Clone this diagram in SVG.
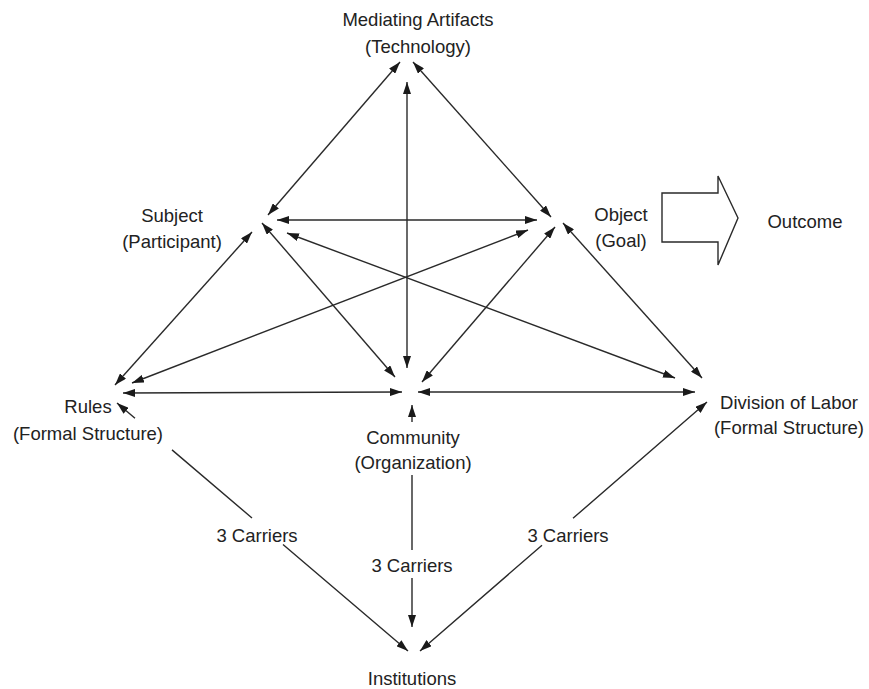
<svg xmlns="http://www.w3.org/2000/svg" width="869" height="689" viewBox="0 0 869 689">
<style>
.lbl{font-family:"Liberation Sans",Arial,sans-serif;font-size:18.5px;fill:#222;text-anchor:middle}
.c{fill:none;stroke:#2a2a2a;stroke-width:1.4;marker-start:url(#ah);marker-end:url(#ah)}
.big{fill:#fff;stroke:#2a2a2a;stroke-width:1.4}
</style>
<defs>
<marker id="ah" markerUnits="userSpaceOnUse" markerWidth="12" markerHeight="8" refX="12" refY="4" orient="auto-start-reverse">
<path d="M0,0 L12,4 L0,8 z" fill="#1a1a1a"/>
</marker>
</defs>
<rect width="869" height="689" fill="#fff"/>
<g id="connectors">
<path class="c" d="M268,215 L400,62"/>
<path class="c" d="M551,217 L413,62"/>
<path class="c" d="M407,82 L407,368"/>
<path class="c" d="M277,220 L537,220"/>
<path class="c" d="M287,233 L675,378"/>
<path class="c" d="M262,223 L395,377"/>
<path class="c" d="M252,232 L115,385"/>
<path class="c" d="M528,230 L132,383"/>
<path class="c" d="M555,227 L422,382"/>
<path class="c" d="M563,223 L702,378"/>
<path class="c" d="M123,393 L402,392"/>
<path class="c" d="M418,392 L695,392"/>
<path class="c" d="M117,403 L135,418.3 M172,449.9 L252,518 M283,544.5 L408,651"/>
<path class="c" d="M707,402 L573,518.3 M542,545.2 L420,651"/>
<path class="c" d="M412,405 L412,422 M412,475 L412,550 M412,578 L412,627"/>
</g>
<g id="mediating"><text class="lbl" x="418" y="26">Mediating Artifacts</text><text class="lbl" x="418" y="53">(Technology)</text></g>
<g id="subject"><text class="lbl" x="172" y="222">Subject</text><text class="lbl" x="172" y="248">(Participant)</text></g>
<g id="object"><text class="lbl" x="621" y="221">Object</text><text class="lbl" x="621" y="247">(Goal)</text></g>
<g id="outcome-arrow"><path class="big" d="M662,193 L718,193 L718,176 L738,218 L718,265 L718,242 L662,242 Z"/></g>
<g id="outcome"><text class="lbl" x="805" y="228">Outcome</text></g>
<g id="rules"><text class="lbl" x="88" y="413">Rules</text><text class="lbl" x="88" y="440">(Formal Structure)</text></g>
<g id="community"><text class="lbl" x="413" y="444">Community</text><text class="lbl" x="413" y="469">(Organization)</text></g>
<g id="division"><text class="lbl" x="789" y="409">Division of Labor</text><text class="lbl" x="789" y="434">(Formal Structure)</text></g>
<g id="carriers-left"><text class="lbl" x="257" y="542">3 Carriers</text></g>
<g id="carriers-mid"><text class="lbl" x="412" y="572">3 Carriers</text></g>
<g id="carriers-right"><text class="lbl" x="568" y="542">3 Carriers</text></g>
<g id="institutions"><text class="lbl" x="412" y="685">Institutions</text></g>
</svg>
